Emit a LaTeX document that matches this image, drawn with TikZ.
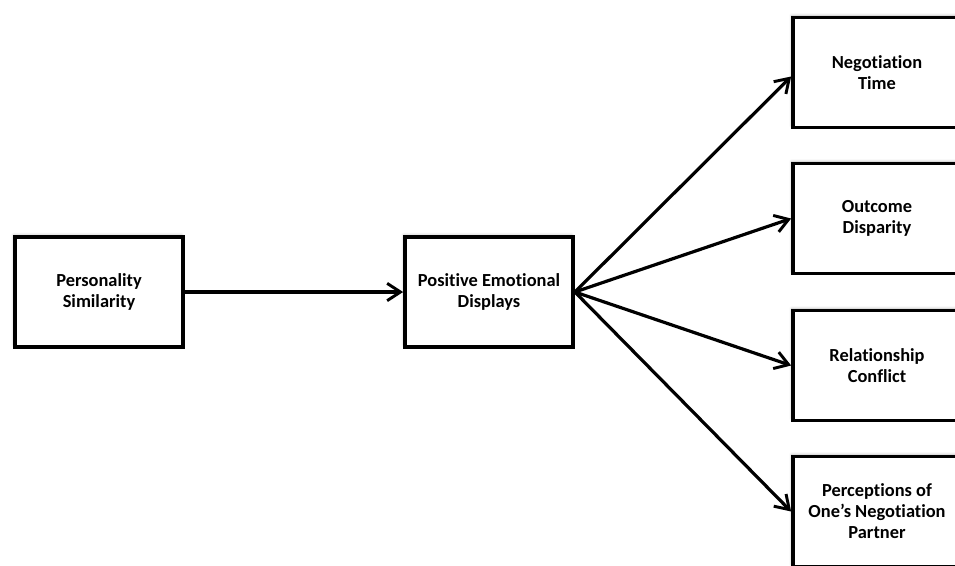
\documentclass[tikz,border=0pt]{standalone}
\usepackage{fontspec}
\setmainfont[Ligatures=NoCommon]{Carlito}
\usetikzlibrary{arrows.meta,shadows.blur}
\begin{document}
\begin{tikzpicture}[x=0.75pt, y=-0.75pt, >={Straight Barb[length=10pt, width=13pt, line width=2.2pt]},
    box/.style={draw, line width=2.8pt, fill=white, minimum width=126pt, minimum height=82.5pt,
      align=center, font=\fontsize{13.8}{15.8}\selectfont\bfseries,
      blur shadow={shadow xshift=-1pt, shadow yshift=1.5pt, shadow blur steps=6, shadow opacity=25}},
    link/.style={->, line width=2.4pt}]
    \useasboundingbox (0,0) rectangle (955,565);
    % left side
    \node[box] (sim) at (99,292) {Personality\\Similarity};
    \node[box] (ped) at (489,292) {Positive Emotional\\Displays};
    % outcomes on the right
    \node[box] (nt) at (877,72.5) {Negotiation\\Time};
    \node[box] (od) at (877,218.5) {Outcome\\Disparity};
    \node[box] (rc) at (877,365.5) {Relationship\\Conflict};
    \node[box] (pp) at (877,511.5) {Perceptions of\\One’s Negotiation\\Partner};
    \draw[link] (sim.east) -- (ped.west);
    \draw[link] (ped.east) -- ([yshift=-3pt]nt.west);
    \draw[link] (ped.east) -- (od.west);
    \draw[link] (ped.east) -- (rc.west);
    \draw[link] (ped.east) -- (pp.west);
\end{tikzpicture}
\end{document}
